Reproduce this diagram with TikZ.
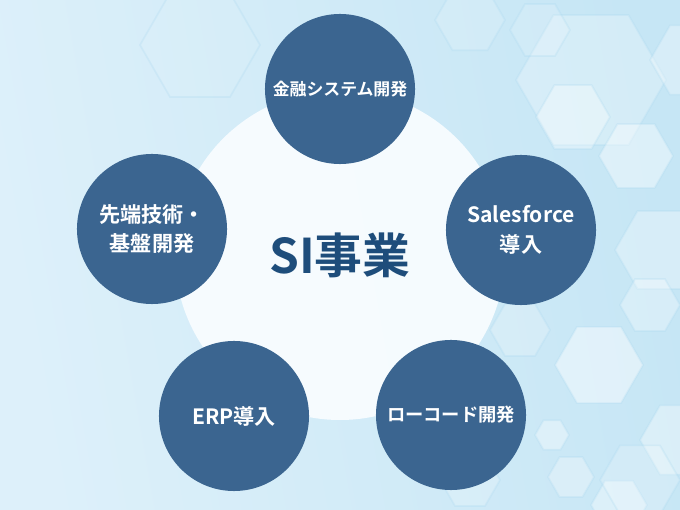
\documentclass[tikz,border=0pt]{standalone}
\usepackage{fontspec}
\setmainfont{Noto Sans CJK JP}[BoldFont={Noto Sans CJK JP Bold}]
\usetikzlibrary{positioning}
\definecolor{bgleft}{HTML}{DDF0FA}
\definecolor{bgright}{HTML}{C6E6F5}
\definecolor{glowfill}{HTML}{F8FCFF}
\definecolor{hexedge}{HTML}{A9D8F0}
\definecolor{svcfill}{HTML}{3B6590}
\definecolor{coretext}{HTML}{1E4D7B}

\begin{document}
\begin{tikzpicture}[
  x=0.025cm, y=-0.025cm,
  svc/.style={circle, fill=svcfill, minimum size=3.75cm, inner sep=0pt,
              align=center, text=white, font=\bfseries},
  core/.style={text=coretext, font=\bfseries\fontsize{34}{40}\selectfont},
  hexa/.style={fill=white, fill opacity=0.3, draw=hexedge, draw opacity=0.25,
                line width=1.2pt},
  glow/.style={fill=glowfill, fill opacity=0.95},
]
\useasboundingbox (0,0) rectangle (680,510);
% background
\shade[left color=bgleft, right color=bgright, shading angle=100] (0,0) rectangle (680,510);
% hexagon pattern (mostly right side)
\foreach \cx/\cy/\r/\o in {
    591/80/75/0.25, 573/117/37/0.35, 636/156/37/0.4, 690/60/40/0.3,
    470/20/35/0.15, 540/30/30/0.15, 200/45/60/0.06, 660/250/45/0.3,
    560/250/35/0.2, 599/365/44/0.45, 650/305/30/0.3, 680/440/40/0.35,
    552/435/17/0.35, 571/477/23/0.3, 619/505/28/0.35, 520/330/30/0.2,
    470/480/30/0.2, 640/480/40/0.2}
  \draw[hexa, fill opacity=\o] (\cx,\cy) +(0:\r) -- +(60:\r) -- +(120:\r)
    -- +(180:\r) -- +(240:\r) -- +(300:\r) -- cycle;
% white glow behind the core
\fill[glow] (340,255) circle [radius=165];
% core title
\node[core] (si) at (340,255) {SI事業};
% five service circles
\node[svc, font=\bfseries\fontsize{12}{16}\selectfont] (fin) at (340,89) {金融システム開発};
\node[svc, font=\bfseries\fontsize{15}{21}\selectfont] (sf) at (521,230) {Salesforce\\導入};
\node[svc, font=\bfseries\fontsize{13}{18}\selectfont] (lc) at (451,415) {ローコード開発};
\node[svc, font=\bfseries\fontsize{15}{21}\selectfont] (erp) at (234,416) {ERP導入};
\node[svc, font=\bfseries\fontsize{15}{21}\selectfont] (adv) at (152,229) {先端技術・\\基盤開発};
\end{tikzpicture}
\end{document}
